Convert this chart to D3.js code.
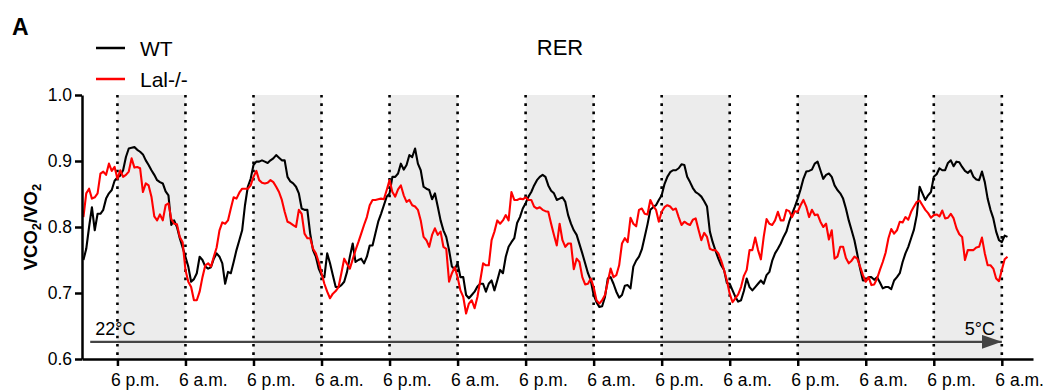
<!DOCTYPE html>
<html>
<head>
<meta charset="utf-8">
<script src="https://cdn.jsdelivr.net/npm/d3@7"></script>
<style>
  html, body { margin: 0; padding: 0; background: #fff; }
  svg { display: block; font-family: "Liberation Sans", Arial, Helvetica, sans-serif; }
</style>
</head>
<body>
<svg id="chart" width="1053" height="392"></svg>
<script>
// ---- data: readings every half hour, starting 6 h before the first 6 p.m. ----
const startHour = -6;
const tickLabels = ["6 p.m.","6 a.m.","6 p.m.","6 a.m.","6 p.m.","6 a.m.","6 p.m.","6 a.m.","6 p.m.","6 a.m.","6 p.m.","6 a.m.","6 p.m.","6 a.m."];
const yTicks = [0.6, 0.7, 0.8, 0.9, 1.0];
const seriesNames = ["WT", "Lal-/-"];
const seriesColors = ["#000000", "#ff0000"];

// WT, values on the hour (h = -6 ... 157)
const wtOnHour = [
0.750,0.800,0.795,0.820,0.843,0.856,
0.875,0.886,0.919,0.921,0.914,0.901,0.886,0.871,0.866,0.848,0.810,0.783,
0.755,0.717,0.730,0.750,0.737,0.752,0.755,0.714,0.730,0.765,0.795,0.861,
0.894,0.899,0.899,0.901,0.909,0.901,0.876,0.866,0.851,0.826,0.790,0.755,
0.727,0.760,0.727,0.709,0.717,0.755,0.747,0.752,0.755,0.772,0.808,0.833,
0.851,0.876,0.896,0.894,0.906,0.896,0.861,0.856,0.851,0.810,0.785,0.740,
0.745,0.724,0.692,0.702,0.714,0.702,0.719,0.719,0.730,0.770,0.783,0.815,
0.836,0.853,0.871,0.879,0.863,0.851,0.843,0.838,0.805,0.788,0.760,0.730,
0.697,0.679,0.694,0.724,0.702,0.697,0.712,0.740,0.755,0.785,0.826,0.833,
0.848,0.876,0.886,0.889,0.894,0.868,0.853,0.846,0.831,0.777,0.752,0.735,
0.714,0.694,0.689,0.722,0.704,0.714,0.714,0.732,0.760,0.775,0.793,0.820,
0.843,0.873,0.885,0.896,0.886,0.879,0.876,0.856,0.843,0.810,0.780,0.737,
0.719,0.724,0.724,0.707,0.709,0.719,0.730,0.760,0.783,0.818,0.851,0.848,
0.876,0.889,0.886,0.901,0.899,0.891,0.882,0.876,0.871,0.868,0.826,0.793,
0.777,0.785
];
// WT, values on the half hour (h = -5.5 ... 156.5)
const wtHalfHour = [
0.767,0.830,0.820,0.826,0.851,0.870,
0.878,0.906,0.920,0.917,0.910,0.894,0.879,0.868,0.854,0.803,0.800,0.769,
0.740,0.721,0.755,0.740,0.739,0.760,0.745,0.732,0.747,0.780,0.833,0.873,
0.899,0.901,0.897,0.904,0.905,0.901,0.869,0.861,0.828,0.826,0.765,0.737,
0.724,0.745,0.709,0.712,0.732,0.775,0.750,0.745,0.772,0.790,0.820,0.846,
0.876,0.881,0.887,0.909,0.919,0.886,0.858,0.842,0.831,0.795,0.765,0.736,
0.724,0.697,0.697,0.710,0.714,0.714,0.704,0.735,0.755,0.777,0.806,0.828,
0.846,0.863,0.876,0.876,0.855,0.841,0.845,0.818,0.795,0.774,0.745,0.719,
0.686,0.680,0.722,0.714,0.693,0.711,0.707,0.749,0.766,0.804,0.830,0.841,
0.865,0.883,0.886,0.895,0.876,0.859,0.850,0.839,0.793,0.764,0.742,0.715,
0.704,0.687,0.703,0.709,0.709,0.719,0.727,0.749,0.767,0.785,0.808,0.831,
0.857,0.884,0.887,0.899,0.873,0.881,0.863,0.851,0.828,0.795,0.759,0.719,
0.724,0.720,0.716,0.709,0.706,0.724,0.747,0.770,0.796,0.861,0.841,0.853,
0.880,0.886,0.897,0.892,0.898,0.885,0.886,0.872,0.884,0.843,0.813,0.780,
0.787
];

// Lal-/-, values on the hour
const lalOnHour = [
0.815,0.858,0.845,0.881,0.879,0.885,
0.873,0.876,0.884,0.890,0.889,0.866,0.846,0.810,0.810,0.836,0.805,0.785,
0.735,0.709,0.689,0.724,0.745,0.755,0.795,0.805,0.828,0.843,0.858,0.858,
0.876,0.871,0.866,0.871,0.861,0.841,0.808,0.803,0.826,0.790,0.783,0.760,
0.730,0.702,0.699,0.709,0.752,0.737,0.765,0.790,0.815,0.841,0.842,0.842,
0.871,0.846,0.863,0.838,0.833,0.826,0.785,0.770,0.798,0.793,0.767,0.730,
0.724,0.694,0.684,0.677,0.719,0.742,0.780,0.810,0.810,0.810,0.841,0.843,
0.845,0.841,0.828,0.826,0.823,0.788,0.805,0.770,0.775,0.752,0.724,0.714,
0.709,0.684,0.697,0.737,0.727,0.775,0.777,0.805,0.826,0.820,0.841,0.826,
0.823,0.833,0.826,0.815,0.808,0.803,0.813,0.780,0.785,0.765,0.760,0.735,
0.699,0.692,0.709,0.735,0.765,0.765,0.785,0.805,0.810,0.810,0.826,0.815,
0.823,0.841,0.815,0.818,0.808,0.805,0.795,0.755,0.770,0.745,0.755,0.740,
0.717,0.712,0.722,0.747,0.783,0.790,0.808,0.815,0.823,0.838,0.833,0.821,
0.818,0.816,0.813,0.820,0.798,0.785,0.765,0.765,0.770,0.760,0.742,0.722,
0.735,0.755
];
// Lal-/-, values on the half hour
const lalHalfHour = [
0.851,0.843,0.851,0.884,0.896,0.891,
0.886,0.879,0.904,0.891,0.853,0.863,0.816,0.819,0.833,0.812,0.804,0.777,
0.717,0.689,0.702,0.742,0.740,0.769,0.807,0.810,0.845,0.852,0.858,0.863,
0.885,0.867,0.867,0.868,0.853,0.823,0.806,0.800,0.820,0.783,0.767,0.747,
0.714,0.692,0.703,0.730,0.744,0.751,0.777,0.803,0.833,0.841,0.843,0.856,
0.853,0.857,0.848,0.841,0.831,0.810,0.780,0.788,0.788,0.770,0.717,0.739,
0.704,0.669,0.689,0.694,0.745,0.742,0.793,0.805,0.818,0.853,0.841,0.842,
0.841,0.831,0.830,0.824,0.805,0.772,0.780,0.775,0.736,0.747,0.713,0.722,
0.689,0.689,0.717,0.724,0.742,0.783,0.814,0.801,0.828,0.819,0.832,0.808,
0.830,0.831,0.828,0.803,0.805,0.811,0.796,0.791,0.767,0.765,0.749,0.719,
0.686,0.698,0.726,0.765,0.784,0.751,0.812,0.803,0.823,0.810,0.824,0.824,
0.833,0.831,0.826,0.819,0.800,0.781,0.752,0.770,0.753,0.749,0.752,0.727,
0.724,0.713,0.735,0.761,0.797,0.795,0.807,0.811,0.831,0.840,0.826,0.814,
0.819,0.825,0.814,0.813,0.789,0.750,0.765,0.769,0.784,0.742,0.737,0.718,
0.751
];

// merge on-hour and half-hour readings into one time series
function merge(onHour, halfHour) {
  const out = [];
  onHour.forEach((v, i) => {
    out.push({ h: startHour + i, v: v });
    if (i < halfHour.length) out.push({ h: startHour + i + 0.5, v: halfHour[i] });
  });
  return out;
}
const wt = merge(wtOnHour, wtHalfHour);
const lal = merge(lalOnHour, lalHalfHour);

// ---- layout ----
const svg = d3.select("#chart");
const FONT = "Liberation Sans, Arial, sans-serif";
const x = d3.scaleLinear().domain([-6.25, 161.5]).range([82, 1033]);
const y = d3.scaleLinear().domain([0.6, 1.0]).range([359, 95]);
const tickHours = tickLabels.map((d, i) => i * 12);

// night shading (6 p.m. -> 6 a.m.)
const nights = tickHours.filter((d, i) => i % 2 === 0);
svg.append("g").selectAll("rect").data(nights).join("rect")
  .attr("x", d => x(d)).attr("width", d => x(d + 12) - x(d))
  .attr("y", y(1.0)).attr("height", y(0.6) - y(1.0))
  .attr("fill", "#ececec");

// dotted verticals
svg.append("g").selectAll("line").data(tickHours).join("line")
  .attr("x1", d => x(d)).attr("x2", d => x(d))
  .attr("y1", y(1.0)).attr("y2", y(0.6))
  .attr("stroke", "#000").attr("stroke-width", 2.6)
  .attr("stroke-dasharray", "2.6,5.7");

// arrow 22°C -> 5°C
const arrowY = 0.626;
const defs = svg.append("defs");
defs.append("marker").attr("id", "ah")
  .attr("viewBox", "0 0 20 14").attr("refX", 20).attr("refY", 7)
  .attr("markerWidth", 20).attr("markerHeight", 14)
  .attr("markerUnits", "userSpaceOnUse").attr("orient", "auto")
  .append("path").attr("d", "M0,0 L20,7 L0,14 Z").attr("fill", "#444");
svg.append("line")
  .attr("x1", x(-4.8)).attr("x2", x(156))
  .attr("y1", y(arrowY)).attr("y2", y(arrowY))
  .attr("stroke", "#444").attr("stroke-width", 2.2)
  .attr("marker-end", "url(#ah)");
svg.append("text").attr("x", x(-3.9)).attr("y", y(arrowY) - 7)
  .attr("font-size", 18).attr("fill", "#000").text("22°C");
svg.append("text").attr("x", x(154.8)).attr("y", y(arrowY) - 7)
  .attr("text-anchor", "end").attr("font-size", 18).attr("fill", "#000").text("5°C");

// lines
const line = d3.line().x(d => x(d.h)).y(d => y(d.v));
[wt, lal].forEach((s, k) => {
  svg.append("path").datum(s).attr("d", line)
    .attr("fill", "none").attr("stroke", seriesColors[k])
    .attr("stroke-width", 2.1).attr("stroke-linejoin", "round");
});

// axes
const yAxis = svg.append("g").attr("transform", `translate(${x(-6.25)},0)`)
  .call(d3.axisLeft(y).tickValues(yTicks).tickFormat(d3.format(".1f")).tickSize(7).tickSizeOuter(0).tickPadding(3));
yAxis.selectAll("path,line").attr("stroke", "#000").attr("stroke-width", 2.5);
yAxis.selectAll("text").attr("font-size", 17.5).attr("font-family", FONT).attr("fill", "#000");

const xAxis = svg.append("g").attr("transform", `translate(0,${y(0.6)})`)
  .call(d3.axisBottom(x).tickValues(tickHours).tickFormat((d, i) => tickLabels[i]).tickSize(7).tickSizeOuter(0).tickPadding(8));
xAxis.selectAll("path,line").attr("stroke", "#000").attr("stroke-width", 2.5);
xAxis.selectAll("text").attr("font-size", 17.5).attr("font-family", FONT).attr("fill", "#000")
  .attr("text-anchor", "start").attr("dx", -7);

// y label
const yl = svg.append("text").attr("transform", `translate(37,${(y(1.0) + y(0.6)) / 2}) rotate(-90)`)
  .attr("text-anchor", "middle").attr("font-size", 18.5).attr("font-weight", "bold").attr("fill", "#000");
yl.append("tspan").text("VCO");
yl.append("tspan").attr("font-size", 13).attr("dy", 4).text("2");
yl.append("tspan").attr("dy", -4).text("/VO");
yl.append("tspan").attr("font-size", 13).attr("dy", 4).text("2");

// title & panel letter
svg.append("text").attr("x", 560).attr("y", 55).attr("text-anchor", "middle")
  .attr("font-size", 22).attr("fill", "#000").text("RER");
svg.append("text").attr("x", 12).attr("y", 35)
  .attr("font-size", 23).attr("font-weight", "bold").attr("fill", "#000").text("A");

// legend
const leg = svg.append("g");
seriesNames.forEach((n, k) => {
  const ly = 48 + k * 31;
  leg.append("line").attr("x1", 96).attr("x2", 125).attr("y1", ly).attr("y2", ly)
    .attr("stroke", seriesColors[k]).attr("stroke-width", 2.5);
  leg.append("text").attr("x", 140).attr("y", ly + 8).attr("font-size", 21)
    .attr("fill", "#000").text(n);
});
</script>
</body>
</html>
